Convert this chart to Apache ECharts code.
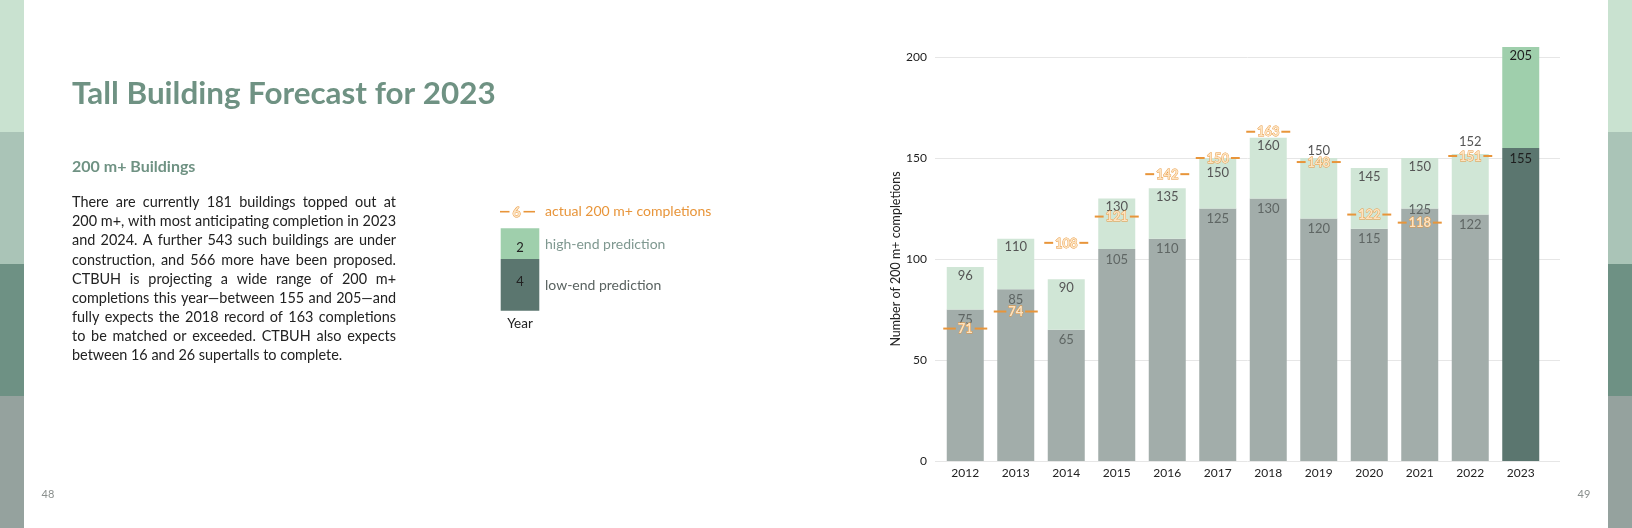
<!DOCTYPE html>
<html>
<head>
<meta charset="utf-8">
<script src="https://cdn.jsdelivr.net/npm/echarts@6.0.0/dist/echarts.min.js"></script>
<style>
html,body{margin:0;padding:0;background:#fff;}
#main{width:1632px;height:528px;}
</style>
</head>
<body>
<div id="main"></div>
<script>
// chart data
var years = ['2012','2013','2014','2015','2016','2017','2018','2019','2020','2021','2022','2023'];
var lowEnd = [75, 85, 65, 105, 110, 125, 130, 120, 115, 125, 122, 155];
var highEnd = [96, 110, 90, 130, 135, 150, 160, 150, 145, 150, 152, 205];
var actual = [71, 74, 108, 121, 142, 150, 163, 148, 122, 118, 151, null];
var yTicks = [0, 50, 100, 150, 200];

var title = 'Tall Building Forecast for 2023';
var subTitle = '200 m+ Buildings';
var textLines = [
    'There are currently 181 buildings topped out at',
    '200 m+, with most anticipating completion in 2023',
    'and 2024. A further 543 such buildings are under',
    'construction, and 566 more have been proposed.',
    'CTBUH is projecting a wide range of 200 m+',
    'completions this year\u2014between 155 and 205\u2014and',
    'fully expects the 2018 record of 163 completions',
    'to be matched or exceeded. CTBUH also expects',
    'between 16 and 26 supertalls to complete.'
];

// colours
var orange = '#e8953a';
var greenTitle = '#6f9283';
var barGray = '#a2adaa';
var barLight = '#d0e6d6';
var lastHigh = '#9fcfac';
var lastLow = '#5b766f';
var FONT = 'Lato';

// label tweaks (pixels) where the page moved labels out of the way
var highTweak = {'2017': {offset: [0, 6]}, '2019': {position: 'top', distance: 0}, '2022': {position: 'top', distance: 5}};
var lowTweak = {'2021': {offset: [0, -9]}};
var markerShift = {'2012': 11};

var chart = echarts.init(document.getElementById('main'));
var ctx = document.createElement('canvas').getContext('2d');
function measure(str, font){
    ctx.font = font;
    return ctx.measureText(str).width;
}

var last = years.length - 1;
var lowData = lowEnd.map(function(v, i){
    var item = {
        value: v,
        itemStyle: {color: i == last ? lastLow : barGray},
        label: {color: i == last ? '#1e1e1e' : '#5f6664'}
    };
    if(lowTweak[years[i]]) item.label = Object.assign(item.label, lowTweak[years[i]]);
    return item;
});
var highData = highEnd.map(function(v, i){
    var item = {
        value: v - lowEnd[i],
        itemStyle: {color: i == last ? lastHigh : barLight},
        label: {color: i == last ? '#1e1e1e' : '#555'}
    };
    if(highTweak[years[i]]) item.label = Object.assign(item.label, highTweak[years[i]]);
    return item;
});
var markerData = [];
actual.forEach(function(v, i){
    if(v != null) markerData.push([i, v]);
});

function renderMarker(params, api){
    var idx = api.value(0);
    var val = api.value(1);
    var pt = api.coord([idx, val]);
    var x = pt[0], y = pt[1] + (markerShift[years[idx]] || 0);
    var txt = String(val);
    var gap = txt.length * 3.7 + 2;
    var half = 22;
    return {
        type: 'group',
        children: [
            {type: 'line', shape: {x1: x - half, y1: y, x2: x - gap, y2: y}, style: {stroke: orange, lineWidth: 2}},
            {type: 'line', shape: {x1: x + gap, y1: y, x2: x + half, y2: y}, style: {stroke: orange, lineWidth: 2}},
            {type: 'text', style: {text: txt, x: x, y: y + 0.5, align: 'center', verticalAlign: 'middle',
                font: 'bold 13px ' + FONT, fill: '#fde3c0', stroke: orange, lineWidth: 0.8}}
        ]
    };
}

// left text block
var graphics = [];
var bands = ['#c9e2d0', '#aac4b7', '#6e9184', '#95a29e'];
bands.forEach(function(c, i){
    graphics.push({type: 'rect', shape: {x: 0, y: i * 132, width: 24, height: 132}, style: {fill: c}, silent: true});
    graphics.push({type: 'rect', shape: {x: 1608, y: i * 132, width: 24, height: 132}, style: {fill: c}, silent: true});
});

var titleSize = 32 * 424 / measure(title, 'bold 32px ' + FONT);
graphics.push({type: 'text', x: 72, y: 94, style: {text: title, font: 'bold ' + titleSize.toFixed(1) + 'px ' + FONT,
    fill: greenTitle, align: 'left', verticalAlign: 'middle'}});
graphics.push({type: 'text', x: 72, y: 167, style: {text: subTitle, font: 'bold 16px ' + FONT,
    fill: greenTitle, align: 'left', verticalAlign: 'middle'}});

var parX = 72, parW = 324, parY = 202.7, lineH = 19.05;
var maxNat = 0;
textLines.forEach(function(l, i){
    if(i < textLines.length - 1) maxNat = Math.max(maxNat, measure(l, '14px ' + FONT));
});
var parSize = Math.min(14.5, 14 * parW / maxNat);
var parFont = parSize.toFixed(2) + 'px ' + FONT;
textLines.forEach(function(l, i){
    var y = parY + i * lineH;
    if(i == textLines.length - 1){
        graphics.push({type: 'text', x: parX, y: y, style: {text: l, font: parFont, fill: '#222', align: 'left', verticalAlign: 'middle'}});
        return;
    }
    var words = l.split(' ');
    var widths = words.map(function(w){ return measure(w, parFont); });
    var sum = widths.reduce(function(a, b){ return a + b; }, 0);
    var space = (parW - sum) / (words.length - 1);
    var x = parX;
    words.forEach(function(w, j){
        graphics.push({type: 'text', x: x, y: y, style: {text: w, font: parFont, fill: '#222', align: 'left', verticalAlign: 'middle'}});
        x += widths[j] + space;
    });
});

// page numbers
graphics.push({type: 'text', x: 48, y: 494, style: {text: '48', font: '11px ' + FONT, fill: '#8a8f8d', align: 'center', verticalAlign: 'middle'}});
graphics.push({type: 'text', x: 1584, y: 494, style: {text: '49', font: '11px ' + FONT, fill: '#8a8f8d', align: 'center', verticalAlign: 'middle'}});

// legend
graphics.push({type: 'line', shape: {x1: 500, y1: 211.7, x2: 509.5, y2: 211.7}, style: {stroke: orange, lineWidth: 1.6}});
graphics.push({type: 'line', shape: {x1: 523.5, y1: 211.7, x2: 535, y2: 211.7}, style: {stroke: orange, lineWidth: 1.6}});
graphics.push({type: 'text', x: 516.5, y: 212, style: {text: '6', font: 'bold 14px ' + FONT, fill: '#fde3c0', stroke: orange, lineWidth: 0.9, align: 'center', verticalAlign: 'middle'}});
graphics.push({type: 'text', x: 545, y: 211.7, style: {text: 'actual 200 m+ completions', font: '14px ' + FONT, fill: orange, align: 'left', verticalAlign: 'middle'}});
graphics.push({type: 'rect', shape: {x: 500.7, y: 228.3, width: 38.6, height: 30.7}, style: {fill: lastHigh}});
graphics.push({type: 'rect', shape: {x: 500.7, y: 259, width: 38.6, height: 51.7}, style: {fill: lastLow}});
graphics.push({type: 'text', x: 520, y: 247.7, style: {text: '2', font: '13px ' + FONT, fill: '#222', align: 'center', verticalAlign: 'middle'}});
graphics.push({type: 'text', x: 520, y: 281.7, style: {text: '4', font: '13px ' + FONT, fill: '#222', align: 'center', verticalAlign: 'middle'}});
graphics.push({type: 'text', x: 545, y: 244, style: {text: 'high-end prediction', font: '14px ' + FONT, fill: '#7f9890', align: 'left', verticalAlign: 'middle'}});
graphics.push({type: 'text', x: 545, y: 285, style: {text: 'low-end prediction', font: '14px ' + FONT, fill: '#5a6361', align: 'left', verticalAlign: 'middle'}});
graphics.push({type: 'text', x: 520, y: 324, style: {text: 'Year', font: '13.5px ' + FONT, fill: '#222', align: 'center', verticalAlign: 'middle'}});

var option = {
    animation: false,
    backgroundColor: '#fff',
    textStyle: {fontFamily: FONT},
    graphic: {elements: graphics},
    grid: [
        {left: 940, right: 86, top: 57, bottom: 67},
        {left: 935, right: 72, top: 57, bottom: 67}
    ],
    xAxis: [
        {
            type: 'category',
            gridIndex: 0,
            data: years,
            axisLine: {show: false},
            axisTick: {show: false},
            axisLabel: {color: '#222', fontSize: 12, margin: 6}
        },
        {type: 'value', gridIndex: 1, min: 0, max: 1, show: false}
    ],
    yAxis: [
        {
            type: 'value',
            gridIndex: 0,
            min: yTicks[0],
            max: yTicks[yTicks.length - 1],
            interval: 50,
            name: 'Number of 200 m+ completions',
            nameLocation: 'middle',
            nameGap: 38,
            nameTextStyle: {color: '#222', fontSize: 12.5},
            axisLine: {show: false},
            axisTick: {show: false},
            splitLine: {show: false},
            axisLabel: {color: '#222', fontSize: 12, margin: 13}
        },
        {
            type: 'value',
            gridIndex: 1,
            min: yTicks[0],
            max: yTicks[yTicks.length - 1],
            interval: 50,
            axisLine: {show: false},
            axisTick: {show: false},
            axisLabel: {show: false},
            splitLine: {show: true, lineStyle: {color: '#e6e6e6', width: 1}}
        }
    ],
    series: [
        {
            name: 'low-end prediction',
            type: 'bar',
            stack: 'forecast',
            barWidth: 37,
            clip: false,
            data: lowData,
            label: {show: true, position: 'insideTop', distance: 3, fontSize: 13, lineHeight: 15}
        },
        {
            name: 'high-end prediction',
            type: 'bar',
            stack: 'forecast',
            barWidth: 37,
            clip: false,
            data: highData,
            label: {
                show: true, position: 'insideTop', distance: 1, fontSize: 13, lineHeight: 15,
                formatter: function(p){ return highEnd[p.dataIndex]; }
            }
        },
        {
            name: 'actual 200 m+ completions',
            type: 'custom',
            renderItem: renderMarker,
            encode: {x: 0, y: 1},
            data: markerData,
            z: 5
        }
    ]
};
chart.setOption(option);
</script>
</body>
</html>
